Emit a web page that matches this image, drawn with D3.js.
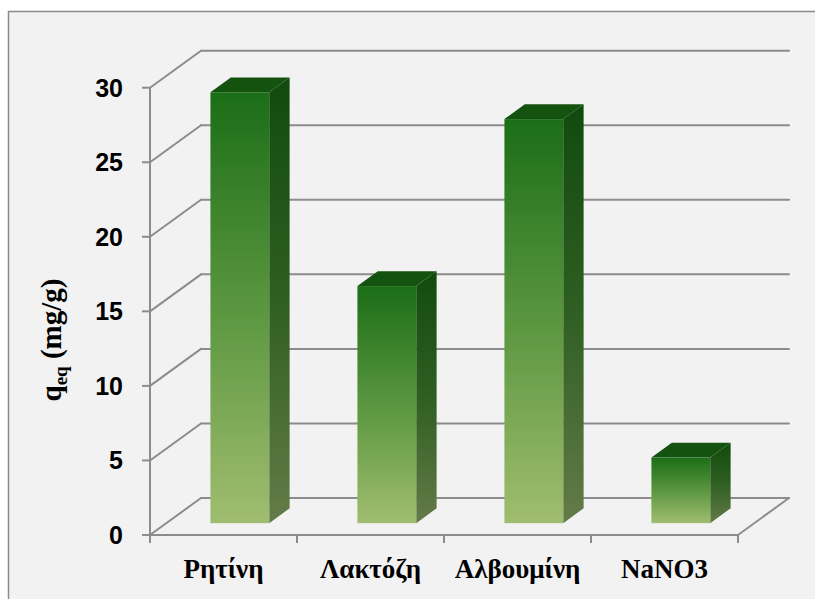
<!DOCTYPE html>
<html>
<head>
<meta charset="utf-8">
<script src="https://cdn.jsdelivr.net/npm/d3@7"></script>
<style>
  html, body { margin: 0; padding: 0; background: #ffffff; }
  svg { display: block; }
</style>
</head>
<body>
<svg id="chart" width="815" height="599"></svg>
<script>
// Adsorption capacity per medium
const categories = ["Ρητίνη", "Λακτόζη", "Αλβουμίνη", "NaNO3"];
const qeq = [28.9, 15.9, 27.1, 4.4];
const yTicks = [0, 5, 10, 15, 20, 25, 30];

const svg = d3.select("#chart");

// Plot frame
svg.append("rect")
  .attr("x", 8.5).attr("y", 11.5)
  .attr("width", 830).attr("height", 620)
  .attr("fill", "#f2f2f2")
  .attr("stroke", "#8a8a8a").attr("stroke-width", 1.5);

// Front plane geometry and depth vector of the 3D box
const x0 = 150, x1 = 738;
const depth = { dx: 51, dy: -37 };
const y = d3.scaleLinear().domain([0, 30]).range([535, 87.7]);
const x = d3.scaleBand().domain(categories).range([x0, x1]).padding(0);

const defs = svg.append("defs");
const gFront = defs.append("linearGradient").attr("id", "gFront")
  .attr("x1", 0).attr("y1", 0).attr("x2", 0).attr("y2", 1);
gFront.append("stop").attr("offset", "0%").attr("stop-color", "#1b6e17");
gFront.append("stop").attr("offset", "50%").attr("stop-color", "#5a963f");
gFront.append("stop").attr("offset", "100%").attr("stop-color", "#a0bd70");
const gSide = defs.append("linearGradient").attr("id", "gSide")
  .attr("x1", 0).attr("y1", 0).attr("x2", 0).attr("y2", 1);
gSide.append("stop").attr("offset", "0%").attr("stop-color", "#114a0e");
gSide.append("stop").attr("offset", "50%").attr("stop-color", "#2f5f22");
gSide.append("stop").attr("offset", "100%").attr("stop-color", "#647b48");

const grid = svg.append("g")
  .attr("stroke", "#8c8c8c").attr("stroke-width", 2).attr("fill", "none")
  .attr("stroke-linecap", "round");

// Back wall gridlines and left-wall diagonals
yTicks.forEach(t => {
  const yy = y(t);
  grid.append("line")
    .attr("x1", x0 + depth.dx).attr("y1", yy + depth.dy)
    .attr("x2", x1 + depth.dx).attr("y2", yy + depth.dy);
  grid.append("line")
    .attr("x1", x0).attr("y1", yy)
    .attr("x2", x0 + depth.dx).attr("y2", yy + depth.dy);
});
// Floor right edge
grid.append("line")
  .attr("x1", x1).attr("y1", y(0))
  .attr("x2", x1 + depth.dx).attr("y2", y(0) + depth.dy);

// Bars as 3D boxes
const zFront = 0.32, zBack = 0.72;
const bw = x.bandwidth() * 0.4;
const bars = svg.append("g");
categories.forEach((c, i) => {
  const cx = x(c) + x.bandwidth() / 2;
  const fx = cx - bw / 2 + depth.dx * zFront;
  const fy0 = y(0) + depth.dy * zFront;
  const fyT = y(qeq[i]) + depth.dy * zFront;
  const ddx = depth.dx * (zBack - zFront), ddy = depth.dy * (zBack - zFront);
  const g = bars.append("g");
  // side face
  g.append("path")
    .attr("d", `M${fx + bw},${fyT} L${fx + bw + ddx},${fyT + ddy} L${fx + bw + ddx},${fy0 + ddy} L${fx + bw},${fy0} Z`)
    .attr("fill", "url(#gSide)");
  // top face
  g.append("path")
    .attr("d", `M${fx},${fyT} L${fx + ddx},${fyT + ddy} L${fx + bw + ddx},${fyT + ddy} L${fx + bw},${fyT} Z`)
    .attr("fill", "#145210");
  // front face
  g.append("rect")
    .attr("x", fx).attr("y", fyT)
    .attr("width", bw).attr("height", fy0 - fyT)
    .attr("fill", "url(#gFront)");
});

// Front axes
const axes = svg.append("g")
  .attr("stroke", "#8c8c8c").attr("stroke-width", 2).attr("fill", "none");
axes.append("line").attr("x1", x0).attr("y1", y(30)).attr("x2", x0).attr("y2", y(0));
axes.append("line").attr("x1", x0).attr("y1", y(0)).attr("x2", x1).attr("y2", y(0));
yTicks.forEach(t => {
  axes.append("line").attr("x1", x0 - 8).attr("y1", y(t)).attr("x2", x0).attr("y2", y(t));
});
[...categories.map(c => x(c)), x1].forEach(px => {
  axes.append("line").attr("x1", px).attr("y1", y(0)).attr("x2", px).attr("y2", y(0) + 8);
});

// Tick labels
svg.append("g").selectAll("text").data(yTicks).join("text")
  .attr("x", 123).attr("y", d => y(d))
  .attr("dy", "0.36em")
  .attr("text-anchor", "end")
  .attr("font-family", "'Liberation Sans', Arial, sans-serif")
  .attr("font-weight", "bold").attr("font-size", 25)
  .attr("fill", "#000")
  .text(d => d);

svg.append("g").selectAll("text").data(categories).join("text")
  .attr("x", d => x(d) + x.bandwidth() / 2).attr("y", 578)
  .attr("text-anchor", "middle")
  .attr("font-family", "'Liberation Serif', 'Times New Roman', serif")
  .attr("font-weight", "bold").attr("font-size", 27)
  .attr("fill", "#000")
  .text(d => d);

// Y axis title
const title = svg.append("text")
  .attr("transform", "translate(61,340) rotate(-90)")
  .attr("text-anchor", "middle")
  .attr("font-family", "'Liberation Serif', 'Times New Roman', serif")
  .attr("font-weight", "bold").attr("font-size", 29)
  .attr("fill", "#000");
title.append("tspan").text("q");
title.append("tspan").attr("font-size", 19).attr("dy", 6).text("eq");
title.append("tspan").attr("dy", -6).text(" (mg/g)");
</script>
</body>
</html>
